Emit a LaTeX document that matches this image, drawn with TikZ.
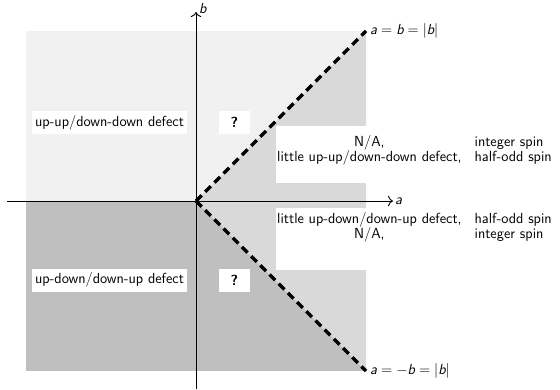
\RequirePackage{fix-cm}
\documentclass[tikz,border=0pt]{standalone}
\usetikzlibrary{arrows.meta}
\definecolor{lightreg}{gray}{0.945}
\definecolor{midreg}{gray}{0.85}
\definecolor{darkreg}{gray}{0.75}
\tikzset{
  axis/.style={line width=0.9pt, -{To[scale=1.4]}},
  boundary/.style={line width=3.4pt, dash pattern=on 8pt off 5pt, black},
  labelbox/.style={fill=white, inner xsep=3pt, inner ysep=0pt, minimum height=23pt},
  qbox/.style={fill=white, inner sep=0pt, minimum width=31pt, minimum height=23pt, font=\bigfont\bfseries},
  every node/.style={font=\bigfont}
}
\newcommand\bigfont{\fontsize{14.6}{14.4}\selectfont\sffamily}
\begin{document}
\begin{tikzpicture}[x=1pt, y=-1pt]
\useasboundingbox (0,0) rectangle (560,389);
% regions
\fill[lightreg] (26,31) rectangle (366,201);
\fill[darkreg] (26,201) rectangle (366,371);
\coordinate (O) at (196,201);
\coordinate (UR) at (366,31);
\coordinate (LR) at (366,371);
\fill[midreg] (O) -- (UR) -- (LR) -- cycle;
% white boxes on the right
\fill[white] (276,126) rectangle (560,183);
\fill[white] (276,208) rectangle (560,270);
% axes
\coordinate (xs) at (7,201);
\coordinate (xe) at (393,201);
\coordinate (ys) at (196,389);
\coordinate (ye) at (196,12);
\draw[axis] (xs) -- (xe);
\draw[axis] (ys) -- (ye);
\node[anchor=west, inner sep=2pt] (alab) at (xe) {\textsl{a}};
\node[anchor=west, inner sep=2pt] (blab) at (197,9) {\textsl{b}};
% boundaries
\draw[boundary] (O) -- (UR);
\draw[boundary] (O) -- (LR);
\node[anchor=west, inner sep=4pt] (l1) at (UR) {$\textsl{a}=\textsl{b}=|\textsl{b}|$};
\node[anchor=west, inner sep=4pt] (l2) at (LR) {$\textsl{a}=-\textsl{b}=|\textsl{b}|$};
% left labels
\node[labelbox] (uu) at (109.5,122.5) {up-up/down-down defect};
\node[qbox] (q1) at (234.5,122.5) {?};
\node[labelbox] (ud) at (109.5,280) {up-down/down-up defect};
\node[qbox] (q2) at (234.5,280) {?};
% right texts
\node[anchor=base west, inner sep=0pt] (t1) at (277,146.7)
  {\begin{tabular}[t]{@{}c@{\hspace{13pt}}l@{}}
   N/A, & integer spin\\
   little up-up/down-down defect, & half-odd spin
   \end{tabular}};
\node[anchor=base west, inner sep=0pt] (t2) at (277,223)
  {\begin{tabular}[t]{@{}c@{\hspace{13pt}}l@{}}
   little up-down/down-up defect, & half-odd spin\\
   N/A, & integer spin
   \end{tabular}};
\end{tikzpicture}
\end{document}
